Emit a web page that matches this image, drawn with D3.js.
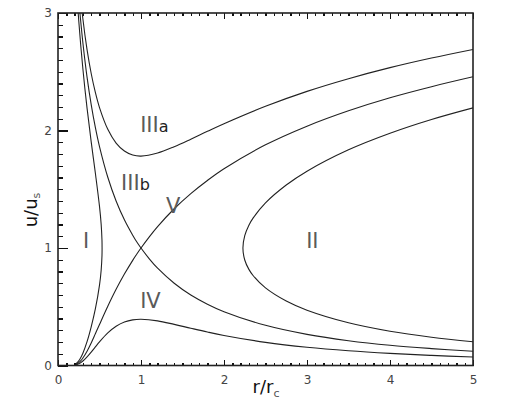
<!DOCTYPE html>
<html>
<head>
<meta charset="utf-8">
<script src="https://cdn.jsdelivr.net/npm/d3@7"></script>
<style>
  body { margin: 0; background: #fff; }
  svg { display: block; }
  .axis text { font-family: "DejaVu Sans", sans-serif; font-size: 12px; fill: #444; }
  .axis line { stroke: #111; stroke-width: 1.4; shape-rendering: crispEdges; }
  .curve { fill: none; stroke: #222; stroke-width: 1.1; }
</style>
</head>
<body>
<svg id="chart" width="516" height="414"></svg>
<script>
// tick labels
var xTicks = [0, 1, 2, 3, 4, 5]
var yTicks = [0, 1, 2, 3]

// solution curves, [r/rc, u/us]
// critical solution, accelerating branch (through the sonic point)
var critAccel = [
    [0.2, 0.005], [0.22, 0.010], [0.25, 0.024], [0.27, 0.037], [0.3, 0.064], [0.35, 0.122],
    [0.4, 0.192], [0.45, 0.270], [0.5, 0.349], [0.6, 0.504], [0.7, 0.648], [0.8, 0.778],
    [0.9, 0.895], [0.95, 0.949], [1.0, 1.0], [1.1, 1.095], [1.2, 1.182], [1.4, 1.334],
    [1.6, 1.463], [1.8, 1.575], [2.0, 1.675], [2.5, 1.878], [3.0, 2.037], [3.5, 2.168],
    [4.0, 2.279], [4.5, 2.373], [5.0, 2.457]
]
// critical solution, decelerating branch
var critDecel = [
    [0.22, 3.40], [0.25, 3.119], [0.27, 2.957], [0.3, 2.745], [0.35, 2.454], [0.4, 2.220],
    [0.45, 2.026], [0.5, 1.863], [0.6, 1.602], [0.7, 1.400], [0.8, 1.240], [0.9, 1.109],
    [0.95, 1.051], [1.0, 1.0], [1.1, 0.908], [1.2, 0.828], [1.4, 0.700], [1.6, 0.600],
    [1.8, 0.522], [2.0, 0.458], [2.5, 0.342], [3.0, 0.265], [3.5, 0.211], [4.0, 0.172],
    [4.5, 0.144], [5.0, 0.121]
]
// region IIIa (supersonic everywhere)
var curveIIIa = [
    [0.25, 3.295], [0.3, 2.949], [0.35, 2.688], [0.4, 2.485], [0.45, 2.324], [0.5, 2.195],
    [0.6, 2.010], [0.7, 1.893], [0.8, 1.825], [0.9, 1.791], [1.0, 1.782], [1.2, 1.808],
    [1.4, 1.862], [1.6, 1.926], [1.8, 1.993], [2.0, 2.058], [2.5, 2.206], [3.0, 2.333],
    [3.5, 2.441], [4.0, 2.535], [4.5, 2.617], [5.0, 2.690]
]
// region IV (subsonic everywhere)
var curveIV = [
    [0.2, 0.003], [0.25, 0.014], [0.3, 0.038], [0.35, 0.073], [0.4, 0.114], [0.45, 0.158],
    [0.5, 0.201], [0.6, 0.277], [0.7, 0.334], [0.8, 0.370], [0.9, 0.388], [1.0, 0.393],
    [1.2, 0.380], [1.4, 0.350], [1.6, 0.317], [1.8, 0.285], [2.0, 0.256], [2.5, 0.197],
    [3.0, 0.155], [3.5, 0.125], [4.0, 0.103], [4.5, 0.086], [5.0, 0.072]
]
// region I (double valued, turns back before r = rc)
var curveI = [
    [0.2, 0.008], [0.22, 0.017], [0.25, 0.040], [0.27, 0.062], [0.3, 0.105], [0.35, 0.203],
    [0.4, 0.329], [0.45, 0.481], [0.5, 0.684], [0.52, 0.811], [0.53, 0.936], [0.531, 1.0],
    [0.53, 1.063], [0.52, 1.202], [0.5, 1.354], [0.45, 1.638], [0.4, 1.903], [0.35, 2.190],
    [0.3, 2.524], [0.25, 2.934], [0.2, 3.471]
]
// region II (double valued, starts beyond r = rc)
var curveII = [
    [5.0, 0.202], [4.5, 0.241], [4.0, 0.292], [3.5, 0.364], [3.0, 0.471], [2.75, 0.549],
    [2.5, 0.661], [2.35, 0.766], [2.3, 0.818], [2.25, 0.898], [2.228, 1.0], [2.25, 1.105],
    [2.3, 1.194], [2.35, 1.254], [2.5, 1.384], [2.75, 1.536], [3.0, 1.654], [3.5, 1.836],
    [4.0, 1.977], [4.5, 2.094], [5.0, 2.193]
]

var regionLabels = [
    {main: "III", sub: "a", r: 0.99, u: 1.99},
    {main: "III", sub: "b", r: 0.76, u: 1.49},
    {main: "V", sub: "", r: 1.30, u: 1.30},
    {main: "IV", sub: "", r: 0.99, u: 0.49},
    {main: "I", sub: "", r: 0.30, u: 1.0},
    {main: "II", sub: "", r: 2.99, u: 1.0}
]

var svg = d3.select("#chart")
var pLeft = 58, pRight = 473, pTop = 13, pBottom = 365.5

var x = d3.scaleLinear().domain([0, 5]).range([pLeft, pRight])
var y = d3.scaleLinear().domain([0, 3]).range([pBottom, pTop])

svg.append("defs").append("clipPath").attr("id", "plotClip")
    .append("rect")
    .attr("x", pLeft).attr("y", pTop)
    .attr("width", pRight - pLeft).attr("height", pBottom - pTop)

var line = d3.line()
    .x(function(d) { return x(d[0]) })
    .y(function(d) { return y(d[1]) })
    .curve(d3.curveCatmullRom.alpha(0.5))

var curves = [critAccel, critDecel, curveIIIa, curveIV, curveI, curveII]
svg.append("g").attr("clip-path", "url(#plotClip)")
    .selectAll("path")
    .data(curves).enter()
    .append("path")
    .attr("class", "curve")
    .attr("d", line)

// minor and major ticks, pointing inward
var xMinor = d3.range(0, 50.5).map(function(i) { return i / 10 })
var yMinor = d3.range(0, 30.5).map(function(i) { return i / 10 })

svg.append("g").attr("class", "axis")
    .attr("transform", "translate(0," + pBottom + ")")
    .call(d3.axisBottom(x).tickValues(xMinor).tickSize(-3).tickFormat(""))
svg.append("g").attr("class", "axis")
    .attr("transform", "translate(0," + pBottom + ")")
    .call(d3.axisBottom(x).tickValues(xTicks).tickSize(-6).tickPadding(10).tickFormat(d3.format("d")))

svg.append("g").attr("class", "axis")
    .attr("transform", "translate(0," + pTop + ")")
    .call(d3.axisTop(x).tickValues(xMinor).tickSize(-3).tickFormat(""))
svg.append("g").attr("class", "axis")
    .attr("transform", "translate(0," + pTop + ")")
    .call(d3.axisTop(x).tickValues(xTicks).tickSize(-6).tickFormat(""))

svg.append("g").attr("class", "axis")
    .attr("transform", "translate(" + pLeft + ",0)")
    .call(d3.axisLeft(y).tickValues(yMinor).tickSize(-5).tickFormat(""))
svg.append("g").attr("class", "axis")
    .attr("transform", "translate(" + pLeft + ",0)")
    .call(d3.axisLeft(y).tickValues(yTicks).tickSize(-10).tickPadding(6).tickFormat(d3.format("d")))

svg.selectAll(".axis .domain").remove()

// frame
svg.append("rect")
    .attr("x", pLeft).attr("y", pTop)
    .attr("width", pRight - pLeft).attr("height", pBottom - pTop)
    .attr("fill", "none").attr("stroke", "#222").attr("stroke-width", 1.6)

// axis titles
var xt = svg.append("text")
    .attr("x", 266).attr("y", 393)
    .attr("text-anchor", "middle")
    .style("font-family", "DejaVu Sans, sans-serif").style("font-size", "18px").style("fill", "#111")
xt.append("tspan").text("r/r")
xt.append("tspan").text("c").style("font-size", "11px").style("fill", "#555").attr("dy", 4)

var yt = svg.append("text")
    .attr("transform", "translate(37,210) rotate(-90)")
    .attr("text-anchor", "middle")
    .style("font-family", "DejaVu Sans, sans-serif").style("font-size", "18px").style("fill", "#111")
yt.append("tspan").text("u/u")
yt.append("tspan").text("s").style("font-size", "11px").style("fill", "#555").attr("dy", 3)

// region labels
var lab = svg.selectAll("text.region")
    .data(regionLabels).enter()
    .append("text")
    .attr("class", "region")
    .attr("x", function(d) { return x(d.r) })
    .attr("y", function(d) { return y(d.u) })
    .style("font-family", "DejaVu Sans, sans-serif")
lab.append("tspan").text(function(d) { return d.main })
    .style("font-size", "21px").style("fill", "#5a5a5a")
lab.append("tspan").text(function(d) { return d.sub })
    .style("font-size", "16px").style("fill", "#222")
</script>
</body>
</html>
